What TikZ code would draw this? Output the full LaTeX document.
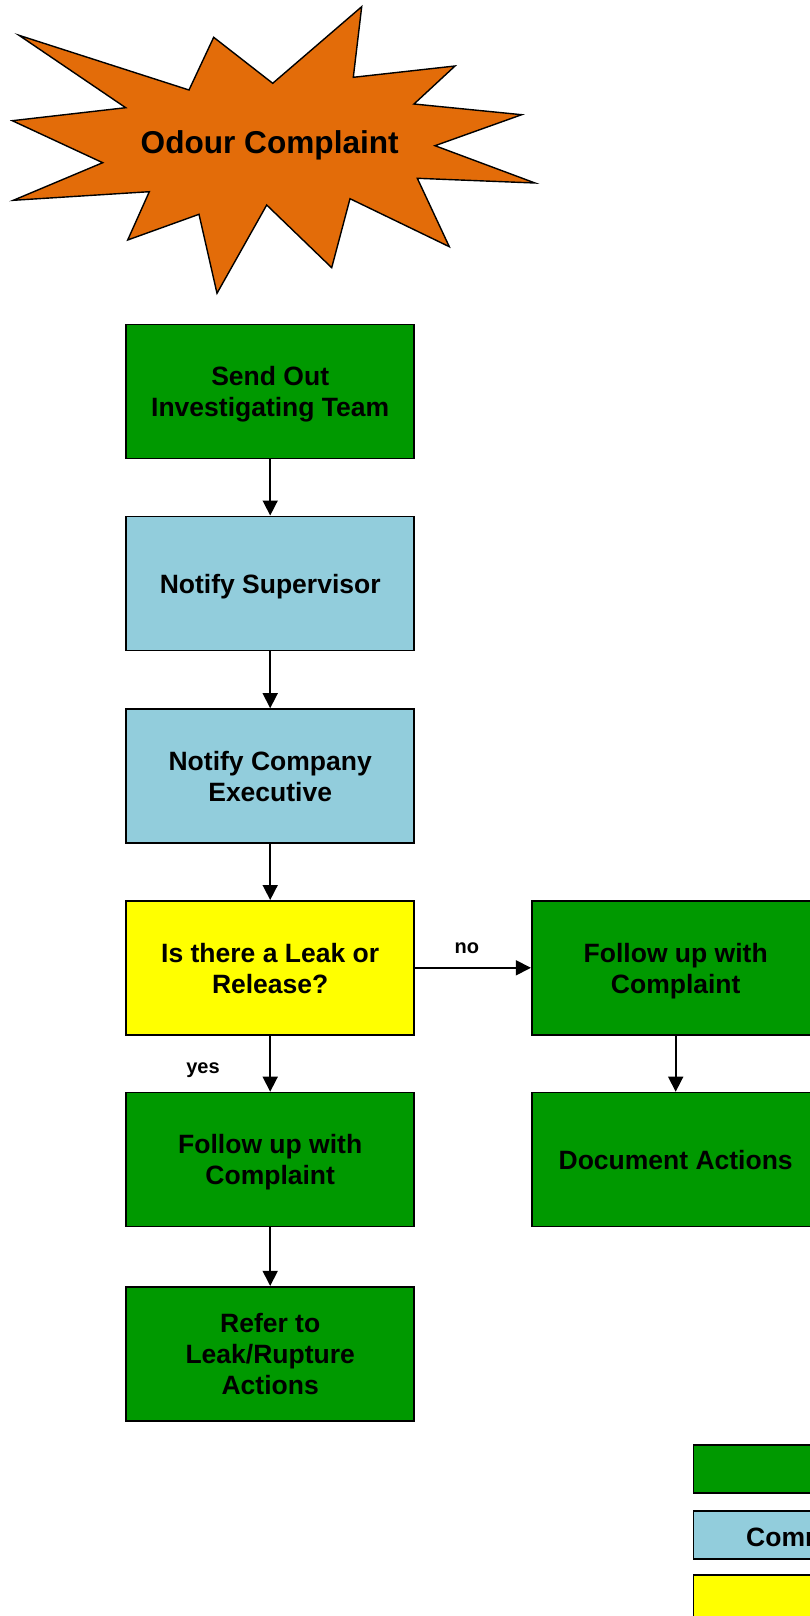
\documentclass[tikz,border=0pt]{standalone}
\usepackage{fontspec}
\setmainfont{Liberation Sans}
\usetikzlibrary{arrows.meta}
\definecolor{burst}{RGB}{227,108,9}
\definecolor{actgreen}{RGB}{0,153,0}
\definecolor{commblue}{RGB}{146,205,220}
\definecolor{decyellow}{RGB}{255,255,0}
% box captions: centred lines, set a little below the geometric centre
\newcommand\boxtext[1]{\raisebox{-3.5pt}[\height][\depth]{\begin{tabular}{@{}c@{}}#1\end{tabular}}}
\begin{document}
\begin{tikzpicture}[x=1pt,y=-1pt,
  box/.style={draw=black,line width=1.6pt,minimum width=288pt,minimum height=134pt,
    inner sep=0pt,font=\fontsize{26.5}{31}\selectfont\bfseries},
  action/.style={box,fill=actgreen},
  comm/.style={box,fill=commblue},
  decision/.style={box,fill=decyellow},
  keybox/.style={draw=black,line width=1.6pt,minimum width=306pt,minimum height=48pt,
    anchor=north west,inner sep=0pt},
  flow/.style={line width=1.6pt,-{Triangle[length=15pt,width=15pt]}},
  lbl/.style={font=\fontsize{20}{24}\selectfont\bfseries},
]
\useasboundingbox (0,0) rectangle (810,1616);
\clip (0,0) rectangle (810,1616);

% starburst
\draw[fill=burst,line width=1.4pt,line join=miter]
  (19,35.3) -- (189,90) -- (213.7,37.3) -- (272.7,83.3) -- (361.7,6.7)
  -- (353.3,77.3) -- (455,66) -- (414,104) -- (521.7,114.7) -- (435,145.7)
  -- (535,183) -- (417.3,178.3) -- (449.3,246.7) -- (350,198.7) -- (331.7,267.7)
  -- (266.7,205) -- (217,293.3) -- (199,214.3) -- (127.7,240) -- (149.3,191.7)
  -- (13.3,200.3) -- (102.7,162.7) -- (12.3,120.7) -- (125.7,107.7) -- cycle;
\node[anchor=base,inner sep=0pt,font=\fontsize{31.6}{37}\selectfont\bfseries]
  (complaint) at (269.7,154) {Odour Complaint};

% main column
\node[action]   (send)   at (270.2,391.6)  {\boxtext{Send Out\\Investigating Team}};
\node[comm]     (sup)    at (270.2,583.3)  {\boxtext{Notify Supervisor}};
\node[comm]     (exec)   at (270.2,776)    {\boxtext{Notify Company\\Executive}};
\node[decision] (leak)   at (270.2,967.8)  {\boxtext{Is there a Leak or\\Release?}};
\node[action]   (follow) at (270.2,1159.5) {\boxtext{Follow up with\\Complaint}};
\node[action]   (refer)  at (270.2,1353.7) {\boxtext{Refer to\\Leak/Rupture\\Actions}};

% right column
\node[action] (followr) at (675.7,967.8)  {\boxtext{Follow up with\\Complaint}};
\node[action] (docact)  at (675.7,1159.5) {\boxtext{Document Actions}};

% connectors
\draw[flow] (send) -- (sup);
\draw[flow] (sup) -- (exec);
\draw[flow] (exec) -- (leak);
\draw[flow] (leak) -- (follow);
\draw[flow] (follow) -- (refer);
\draw[flow] (leak) -- (followr);
\draw[flow] (followr) -- (docact);

\node[lbl] (no)  at (466.8,948)    {no};
\node[lbl] (yes) at (203,1070.5)   {yes};

% key
\node[keybox,fill=actgreen] (keyact) at (692.7,1444.3) {};
\node[keybox,fill=commblue] (keycomm) at (692.7,1510) {};
\node[anchor=west,inner sep=0pt,font=\fontsize{26.5}{31}\selectfont\bfseries]
  (keycommtxt) at (746,1536.7) {Communication};
\node[keybox,fill=decyellow] (keydec) at (692.7,1574.3) {};
\end{tikzpicture}
\end{document}
